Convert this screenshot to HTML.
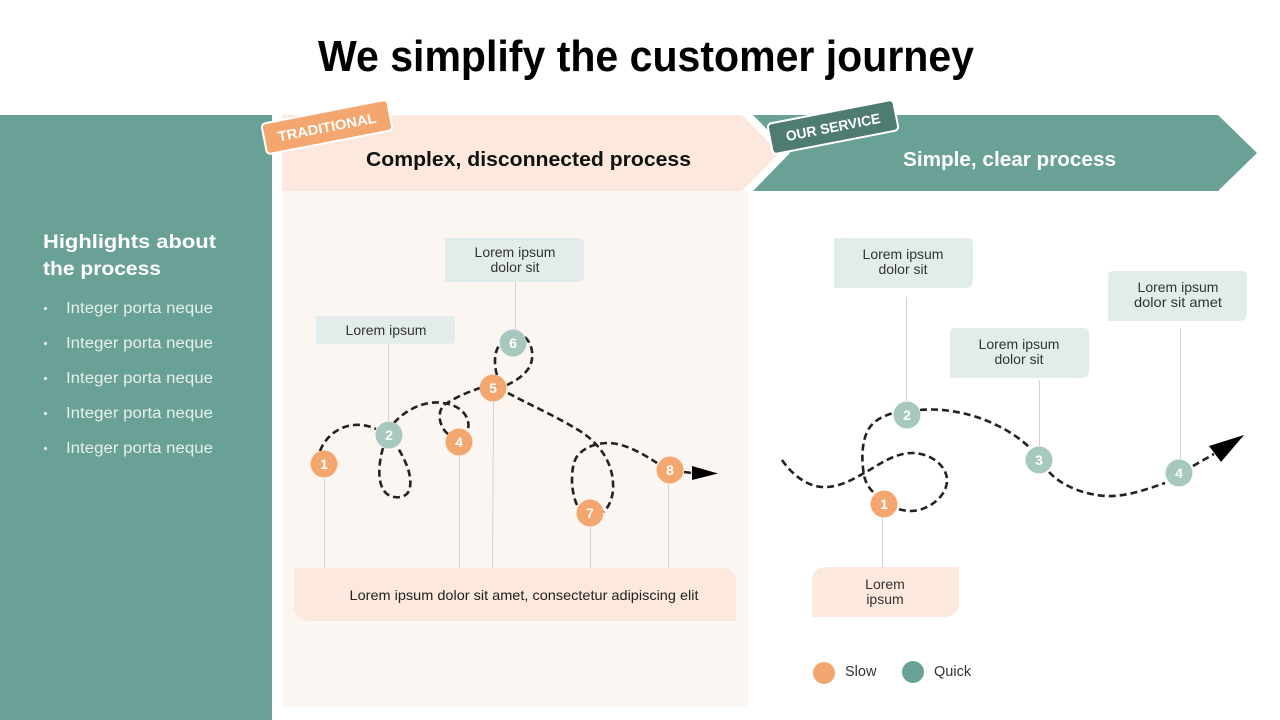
<!DOCTYPE html>
<html><head><meta charset="utf-8">
<style>
html,body{margin:0;padding:0;background:#fff;width:1280px;height:720px;overflow:hidden}
svg{display:block}
text{font-family:"Liberation Sans",sans-serif}
</style></head>
<body>
<svg width="1280" height="720" viewBox="0 0 1280 720" xmlns="http://www.w3.org/2000/svg">
<rect width="1280" height="720" fill="#fff"/>
<!-- Title -->
<text x="318" y="71" font-size="44" font-weight="bold" fill="#000" textLength="656" lengthAdjust="spacingAndGlyphs">We simplify the customer journey</text>

<!-- Left panel -->
<rect x="0" y="115" width="272" height="605" fill="#6aa196"/>
<text x="43" y="248" font-size="19.5" font-weight="bold" fill="#fff" textLength="173" lengthAdjust="spacingAndGlyphs">Highlights about</text>
<text x="43" y="275" font-size="19.5" font-weight="bold" fill="#fff" textLength="118" lengthAdjust="spacingAndGlyphs">the process</text>
<g fill="#e6efec" font-size="15.5">
<circle cx="45.5" cy="308.5" r="1.6"/><text x="66" y="313" textLength="147" lengthAdjust="spacingAndGlyphs">Integer porta neque</text>
<circle cx="45.5" cy="343.5" r="1.6"/><text x="66" y="348" textLength="147" lengthAdjust="spacingAndGlyphs">Integer porta neque</text>
<circle cx="45.5" cy="378.5" r="1.6"/><text x="66" y="383" textLength="147" lengthAdjust="spacingAndGlyphs">Integer porta neque</text>
<circle cx="45.5" cy="413.5" r="1.6"/><text x="66" y="418" textLength="147" lengthAdjust="spacingAndGlyphs">Integer porta neque</text>
<circle cx="45.5" cy="448.5" r="1.6"/><text x="66" y="453" textLength="147" lengthAdjust="spacingAndGlyphs">Integer porta neque</text>
</g>

<!-- Light panel -->
<rect x="282" y="191" width="466" height="516" fill="#fcf6f2"/>

<!-- Chevrons -->
<polygon points="282,115 742,115 779,153 742,191 282,191" fill="#fce8dc"/>
<polygon points="753,115 1218,115 1257,153 1218,191 753,191 790,153" fill="#6aa196"/>
<text x="366" y="166" font-size="20" font-weight="bold" fill="#111" textLength="325" lengthAdjust="spacingAndGlyphs">Complex, disconnected process</text>
<text x="903" y="166" font-size="20" font-weight="bold" fill="#fff" textLength="213" lengthAdjust="spacingAndGlyphs">Simple, clear process</text>

<!-- Tags -->
<g transform="translate(327,127) rotate(-11)">
<rect x="-64" y="-15.5" width="128" height="31" rx="4" fill="#f3a76f" stroke="#fff" stroke-width="2"/>
<text x="0" y="5" font-size="14" font-weight="bold" fill="#fff" text-anchor="middle" textLength="100" lengthAdjust="spacingAndGlyphs">TRADITIONAL</text>
</g>
<g transform="translate(833,127) rotate(-11)">
<rect x="-64" y="-15.5" width="128" height="31" rx="4" fill="#4e7c72" stroke="#fff" stroke-width="2"/>
<text x="0" y="5" font-size="14" font-weight="bold" fill="#fff" text-anchor="middle" textLength="96" lengthAdjust="spacingAndGlyphs">OUR SERVICE</text>
</g>

<!-- Left connectors -->
<g stroke="#d2d2d2" stroke-width="1">
<line x1="324.5" y1="478" x2="324.5" y2="568"/>
<line x1="388.5" y1="344" x2="388.5" y2="421"/>
<line x1="459.5" y1="456" x2="459.5" y2="568"/>
<line x1="493.5" y1="402" x2="492.5" y2="568"/>
<line x1="515.5" y1="282" x2="515.5" y2="330"/>
<line x1="590.5" y1="527" x2="590.5" y2="568"/>
<line x1="668.5" y1="484" x2="668.5" y2="568"/>
</g>

<!-- Left label boxes -->
<path d="M445,238 H578 Q584,238 584,244 V276 Q584,282 578,282 H445 Z" fill="#e2ecea"/>
<text x="515" y="257" font-size="14" fill="#333" text-anchor="middle">Lorem ipsum</text>
<text x="515" y="272" font-size="14" fill="#333" text-anchor="middle">dolor sit</text>
<path d="M316,316 H451 Q455,316 455,320 V340 Q455,344 451,344 H316 Z" fill="#e2ecea"/>
<text x="386" y="335" font-size="14" fill="#333" text-anchor="middle">Lorem ipsum</text>

<!-- Bottom box -->
<path d="M294,568 H721 Q736,568 736,583 V621 H309 Q294,621 294,606 Z" fill="#fce8dc"/>
<text x="524" y="600" font-size="14" fill="#222" text-anchor="middle" textLength="349" lengthAdjust="spacingAndGlyphs">Lorem ipsum dolor sit amet, consectetur adipiscing elit</text>

<!-- Left dashed path -->
<g fill="none" stroke="#222" stroke-width="2.6" stroke-dasharray="7 4">
<path d="M320,451 C328,430 352,418 376,429"/>
<path d="M383,448 C378,465 377,486 387,494 C395,500 409,498 410,487 C412,474 405,460 398,448"/>
<path d="M394,423 C405,410 425,400 443,403 C460,405 471,416 468,430"/>
<path d="M448,434 C440,428 436,413 444,405 C454,398 468,392 480,388"/>
<path d="M497,375 C494,366 494,352 499,346"/>
<path d="M525,337 C533,345 534,357 530,366 C526,374 516,381 507,385"/>
<path d="M508,393 C530,405 560,418 583,433 C600,445 612,462 613,483 C614,495 610,505 604,512"/>
<path d="M577,505 C571,492 570,470 576,458 C582,448 596,443 608,443 C625,443 645,455 657,463"/>
<path d="M684,472 L692,473"/>
</g>
<polygon points="692,466 718,473.5 692,480" fill="#000"/>

<!-- Left circles -->
<g font-size="14" font-weight="bold" fill="#fff" text-anchor="middle">
<circle cx="324" cy="464" r="13.5" fill="#f3a76f"/><text x="324" y="469">1</text>
<circle cx="389" cy="435" r="13.5" fill="#a6c8bf"/><text x="389" y="440">2</text>
<circle cx="459" cy="442" r="13.5" fill="#f3a76f"/><text x="459" y="447">4</text>
<circle cx="493" cy="388" r="13.5" fill="#f3a76f"/><text x="493" y="393">5</text>
<circle cx="513" cy="343" r="13.5" fill="#a6c8bf"/><text x="513" y="348">6</text>
<circle cx="590" cy="513" r="13.5" fill="#f3a76f"/><text x="590" y="518">7</text>
<circle cx="670" cy="470" r="13.5" fill="#f3a76f"/><text x="670" y="475">8</text>
</g>

<!-- Right connectors -->
<g stroke="#d2d2d2" stroke-width="1">
<line x1="906.5" y1="297" x2="906.5" y2="401"/>
<line x1="1039.5" y1="380" x2="1039.5" y2="446"/>
<line x1="1180.5" y1="328" x2="1180.5" y2="459"/>
<line x1="882.5" y1="517" x2="882.5" y2="567"/>
</g>

<!-- Right label boxes -->
<path d="M834,238 H968 Q973,238 973,243 V280 Q973,288 965,288 H834 Z" fill="#e2ecea"/>
<text x="903" y="259" font-size="14" fill="#333" text-anchor="middle">Lorem ipsum</text>
<text x="903" y="274" font-size="14" fill="#333" text-anchor="middle">dolor sit</text>
<path d="M955,328 H1084 Q1089,328 1089,333 V370 Q1089,378 1081,378 H950 V333 Q950,328 955,328 Z" fill="#e2ecea"/>
<text x="1019" y="349" font-size="14" fill="#333" text-anchor="middle">Lorem ipsum</text>
<text x="1019" y="364" font-size="14" fill="#333" text-anchor="middle">dolor sit</text>
<path d="M1113,271 H1242 Q1247,271 1247,276 V313 Q1247,321 1239,321 H1108 V276 Q1108,271 1113,271 Z" fill="#e2ecea"/>
<text x="1178" y="292" font-size="14" fill="#333" text-anchor="middle">Lorem ipsum</text>
<text x="1178" y="307" font-size="14" fill="#333" text-anchor="middle" textLength="88" lengthAdjust="spacingAndGlyphs">dolor sit amet</text>

<!-- Slow box -->
<path d="M827,567 H959 V602 Q959,617 944,617 H812 V582 Q812,567 827,567 Z" fill="#fce8dc"/>
<text x="885" y="589" font-size="14" fill="#333" text-anchor="middle">Lorem</text>
<text x="885" y="604" font-size="14" fill="#333" text-anchor="middle">ipsum</text>

<!-- Right dashed path -->
<g fill="none" stroke="#222" stroke-width="2.6" stroke-dasharray="7 4">
<path d="M782,460 C790,472 805,486 822,487 C840,488 855,478 866,472 C880,464 895,453 912,453 C930,453 946,465 947,479 C948,495 930,510 912,511 C906,511 902,510 898,509"/>
<path d="M873,492 C866,485 864,478 863,468 C861,450 864,435 870,427 C876,419 884,416 893,413"/>
<path d="M920,410 C940,408 965,412 985,420 C1005,428 1020,438 1030,448"/>
<path d="M1049,472 C1060,484 1080,494 1105,496 C1125,497 1145,490 1165,483"/>
<path d="M1193,466 L1214,454"/>
</g>
<polygon points="1209,446 1244,435 1221,462" fill="#000"/>

<!-- Right circles -->
<g font-size="14" font-weight="bold" fill="#fff" text-anchor="middle">
<circle cx="884" cy="504" r="13.5" fill="#f3a76f"/><text x="884" y="509">1</text>
<circle cx="907" cy="415" r="13.5" fill="#a6c8bf"/><text x="907" y="420">2</text>
<circle cx="1039" cy="460" r="13.5" fill="#a6c8bf"/><text x="1039" y="465">3</text>
<circle cx="1179" cy="473" r="13.5" fill="#a6c8bf"/><text x="1179" y="478">4</text>
</g>

<!-- Legend -->
<circle cx="824" cy="673" r="11" fill="#f3a76f"/>
<text x="845" y="676" font-size="14.5" fill="#333">Slow</text>
<circle cx="913" cy="672" r="11" fill="#6aa196"/>
<text x="934" y="676" font-size="14.5" fill="#333">Quick</text>
</svg>
</body></html>
